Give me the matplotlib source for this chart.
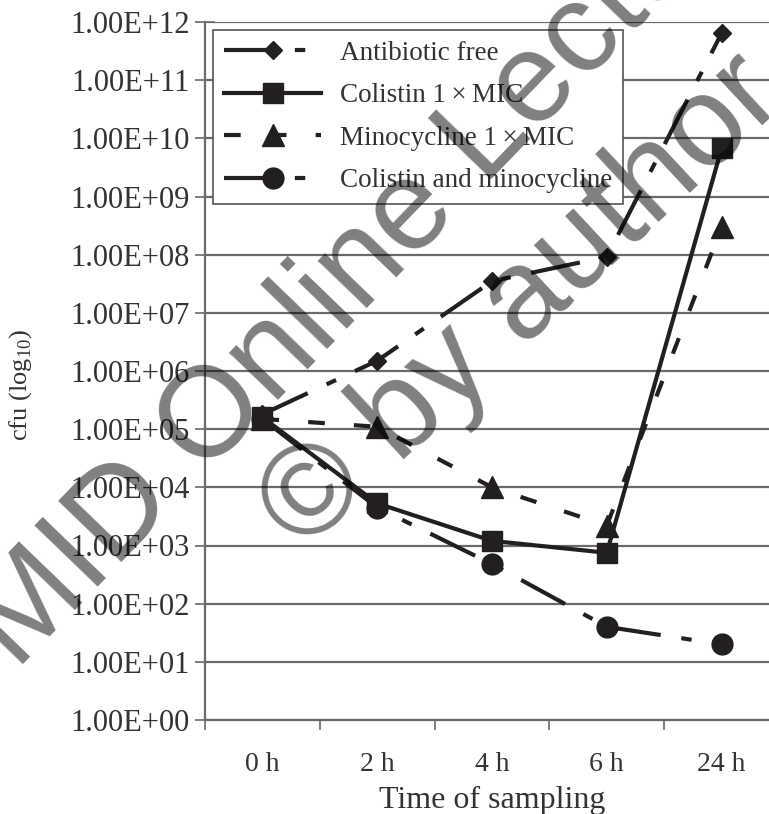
import matplotlib
matplotlib.use('Agg')
import matplotlib.pyplot as plt
import matplotlib.ticker as mticker
import numpy as np

# sampling times and cfu counts
times = ['0 h', '2 h', '4 h', '6 h', '24 h']
antibiotic_free = [1.8e5, 1.5e6, 3.5e7, 9.2e7, 6.4e11]
colistin = [1.6e5, 5.3e3, 1.2e3, 7.5e2, 6.7e9]
minocycline = [1.5e5, 1.1e5, 1.0e4, 2.2e3, 3.0e8]
combination = [1.5e5, 4.5e3, 4.8e2, 4.0e1, 2.0e1]

decades = list(range(0, 13))
ytick_labels = ['1.00E+%02d' % d for d in decades]

plt.rcParams['mathtext.fontset'] = 'custom'
plt.rcParams['mathtext.rm'] = 'Liberation Serif'

ink = '#231f20'
grid_col = '#6a6a6a'
txt_col = '#333333'
serif = 'Liberation Serif'
long_dash_dot = (0, (12, 5, 2.5, 5))
short_dash = (0, (4, 7))

fig = plt.figure(figsize=(7.69, 8.14), dpi=100)
# axes runs a little past the right edge, like the cropped original
ax = fig.add_axes([205 / 769, 94 / 814, 574 / 769, 698 / 814])

x = np.arange(len(times))
ax.plot(x, antibiotic_free, color=ink, lw=3, linestyle=long_dash_dot,
        marker='D', ms=9, mec=ink, label='Antibiotic free', zorder=3)
ax.plot(x, colistin, color=ink, lw=3, linestyle='-',
        marker='s', ms=15, mec=ink, label='Colistin 1\u2009\u00d7\u2009MIC', zorder=4)
ax.plot(x, minocycline, color=ink, lw=3, linestyle=short_dash,
        marker='^', ms=16, mec=ink, label='Minocycline 1\u2009\u00d7\u2009MIC', zorder=3)
ax.plot(x, combination, color=ink, lw=3, linestyle=long_dash_dot,
        marker='o', ms=15, mec=ink, label='Colistin and minocycline', zorder=3)

ax.set_yscale('log')
ax.set_ylim(1, 1e12)
ax.set_xlim(-0.5, len(times) - 0.5)

ax.yaxis.set_major_locator(mticker.FixedLocator([10.0 ** d for d in decades]))
ax.yaxis.set_minor_locator(mticker.NullLocator())
ax.set_yticklabels(ytick_labels, fontfamily=serif, fontsize=22, color=txt_col)
ax.tick_params(axis='y', direction='inout', length=14, width=1.2, color=grid_col, pad=4)

ax.set_xticks(x)
ax.set_xticklabels(times, fontfamily=serif, fontsize=20, color=txt_col)
ax.set_xticks(np.arange(-0.5, len(times)), minor=True)
ax.tick_params(axis='x', which='major', length=0, pad=23)
ax.tick_params(axis='x', which='minor', direction='out', length=7, width=1.2, color=grid_col)

ax.grid(axis='y', color=grid_col, lw=1.6)
ax.set_axisbelow(True)
for side in ['top', 'right']:
    ax.spines[side].set_visible(False)
for side in ['left', 'bottom']:
    ax.spines[side].set_color(grid_col)
    ax.spines[side].set_linewidth(1.6)

ax.set_xlabel('Time of sampling', fontfamily=serif, fontsize=23, color=txt_col)
ax.xaxis.set_label_coords(0.5, -0.095)
ax.set_ylabel(r'cfu (log$_{\mathregular{10}}$)', fontfamily=serif, fontsize=19, color=txt_col)
ax.yaxis.set_label_coords(-0.298, 0.48)

leg = ax.legend(loc='upper left', bbox_to_anchor=(0.014, 0.989), borderaxespad=0,
                prop={'family': serif, 'size': 19.5}, handlelength=3.6, handletextpad=0.7,
                labelspacing=0.65, frameon=True, fancybox=False, framealpha=1)
leg.get_frame().set_edgecolor('#555555')
leg.get_frame().set_linewidth(1.2)
for t in leg.get_texts():
    t.set_color(txt_col)

# watermark over the chart
fig.text(375 / 769, 1 - 253 / 814, 'MID Online Lecture', fontfamily='Liberation Sans',
         fontsize=92, color='black', alpha=0.5, rotation=46, rotation_mode='anchor',
         ha='center', va='center', zorder=10)
fig.text(523 / 769, 1 - 303 / 814, '\u00a9 by author', fontfamily='Liberation Sans',
         fontsize=92, color='black', alpha=0.5, rotation=43, rotation_mode='anchor',
         ha='center', va='center', zorder=10)

fig.savefig('out.png', dpi=100)
